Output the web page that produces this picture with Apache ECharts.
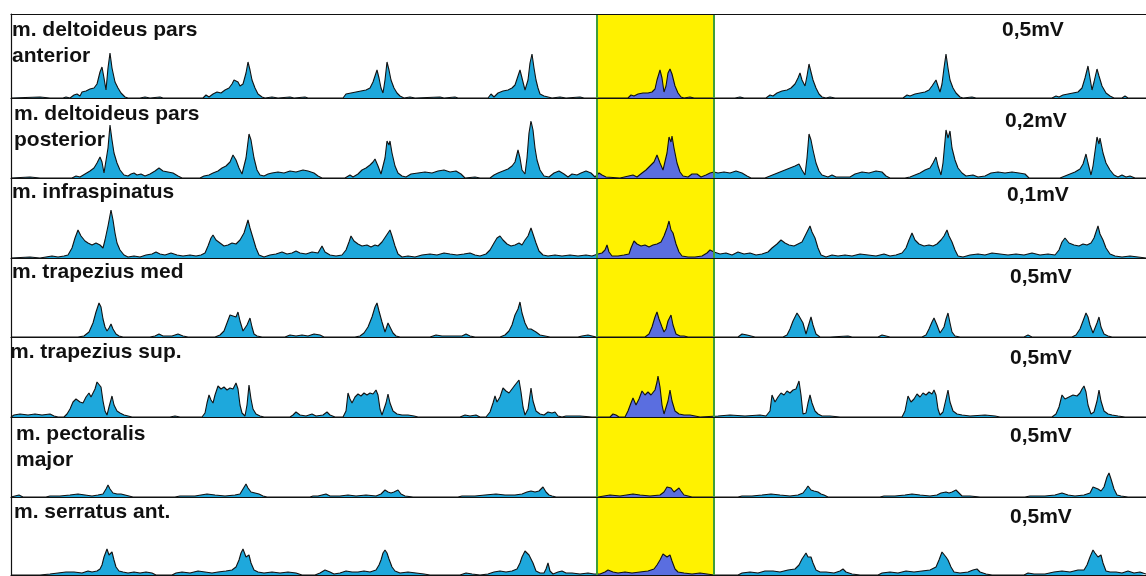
<!DOCTYPE html>
<html>
<head>
<meta charset="utf-8">
<script src="https://cdn.jsdelivr.net/npm/echarts@6/dist/echarts.min.js"></script>
<style>
  html, body { margin: 0; padding: 0; background: #ffffff; }
  #chart { width: 1146px; height: 576px; }
</style>
</head>
<body>
<div id="chart"></div>
<script>
// Rectified EMG envelopes, seven shoulder muscles, eight movement cycles.
// Each trace is a list of [time sample, amplitude] pairs.
const muscles = [
  'm. deltoideus pars\nanterior',
  'm. deltoideus pars\nposterior',
  'm. infraspinatus',
  'm. trapezius med',
  'm. trapezius sup.',
  'm. pectoralis\nmajor',
  'm. serratus ant.'
];
const scaleLabels = ['0,5mV', '0,2mV', '0,1mV', '0,5mV', '0,5mV', '0,5mV', '0,5mV'];

// highlighted movement cycle (start / end sample)
const cycleWindow = [586, 703];
const timeMax = 1135;

const deltAnt = [
  [0,0],[29,1],[39,0],
  [52,0],[55,1],[59,0],[63,3],[66,4],[69,2],[71,6],[75,7],[79,9],[83,10],[86,14],[89,26],[91,31],[93,20],[95,8],[97,30],[99,45],[101,30],[104,16],[107,10],[110,5],[114,1],[117,0],
  [129,0],[134,1],[139,0],[149,1],[152,0],
  [192,0],[195,3],[198,1],[202,4],[206,6],[210,5],[214,8],[218,10],[221,14],[223,18],[225,20],[227,16],[229,12],[232,14],[235,25],[237,36],[239,28],[241,18],[244,10],[247,4],[251,1],[254,0],
  [261,1],[267,0],[279,1],[283,0],[294,1],[297,0],
  [332,0],[335,4],[337,2],[340,5],[345,6],[350,7],[355,8],[359,10],[362,16],[364,22],[366,28],[368,20],[370,10],[372,5],[374,18],[376,36],[378,28],[380,18],[383,10],[386,5],[389,2],[393,0],
  [399,1],[404,0],[429,1],[433,0],[444,1],[447,0],
  [477,0],[480,4],[483,1],[487,5],[492,7],[497,8],[501,10],[504,13],[507,22],[509,28],[511,20],[514,8],[517,18],[519,35],[521,44],[523,30],[525,18],[527,10],[529,4],[533,2],[537,1],[541,0],
  [549,1],[555,0],[569,1],[573,0],
  [617,0],[620,3],[623,2],[625,1],[627,4],[632,5],[637,5],[641,6],[644,9],[646,18],[649,28],[651,20],[653,6],[655,12],[657,25],[659,29],[661,24],[664,12],[667,5],[670,1],[673,0],
  [679,1],[683,0],[724,0],[729,1],[733,0],
  [755,0],[759,3],[762,2],[766,5],[771,7],[776,8],[780,10],[784,14],[787,20],[789,25],[791,18],[794,12],[796,22],[798,34],[800,26],[802,18],[805,10],[808,4],[811,1],[815,0],
  [819,1],[824,0],
  [892,0],[896,3],[899,2],[904,4],[909,5],[914,6],[918,8],[921,12],[923,15],[925,18],[927,12],[929,6],[931,14],[933,30],[935,44],[937,30],[939,18],[942,10],[945,5],[949,1],[952,0],
  [961,1],[965,0],
  [1041,0],[1045,2],[1048,1],[1052,3],[1057,4],[1062,5],[1067,6],[1071,10],[1074,20],[1077,32],[1079,20],[1081,8],[1083,16],[1086,29],[1088,22],[1091,12],[1095,5],[1099,2],[1103,0],[1111,0],[1114,2],[1117,0],[1135,0]
];

const deltPost = [
  [0,0],[19,1],[29,0],
  [61,0],[65,2],[69,1],[74,4],[79,7],[83,10],[86,15],[89,21],[91,16],[93,5],[95,3],[97,30],[99,53],[101,38],[103,25],[106,15],[109,8],[113,3],[117,2],[120,4],[123,5],[126,3],[130,4],[134,2],[139,4],[144,7],[148,10],[152,7],[157,6],[162,5],[167,2],[171,0],
  [189,0],[193,2],[198,3],[202,5],[207,7],[211,10],[215,12],[219,16],[222,23],[225,18],[228,10],[231,4],[233,2],[235,20],[238,44],[240,38],[243,20],[246,8],[249,3],[253,2],[257,4],[261,5],[267,6],[273,5],[279,7],[285,6],[292,8],[297,7],[303,5],[307,2],[311,0],
  [334,0],[339,3],[342,1],[347,4],[351,8],[355,10],[359,13],[362,16],[364,19],[367,12],[370,4],[372,2],[374,20],[376,37],[378,33],[379,37],[381,25],[384,12],[387,5],[391,2],[395,1],[400,4],[407,5],[414,6],[421,5],[427,7],[433,8],[439,6],[445,7],[450,4],[454,0],
  [464,1],[469,0],
  [479,0],[483,3],[487,5],[492,7],[497,9],[501,12],[504,16],[507,28],[509,20],[511,8],[514,4],[516,20],[518,45],[520,57],[522,48],[524,30],[526,18],[529,8],[533,2],[538,1],[543,5],[548,7],[553,4],[557,1],[561,4],[566,3],[570,5],[575,7],[580,5],[584,1],[588,5],[591,3],[595,1],
  [609,0],[622,3],[626,1],[631,5],[635,8],[639,12],[643,16],[646,23],[649,15],[652,8],[654,10],[656,25],[658,41],[660,36],[661,42],[663,30],[666,15],[669,6],[672,2],[677,1],[681,4],[686,4],[690,1],[695,3],[699,5],[703,6],[707,5],[713,6],[719,5],[725,7],[731,5],[736,2],[740,0],
  [754,0],[759,2],[764,4],[769,6],[774,8],[779,10],[784,12],[788,14],[791,8],[794,3],[796,20],[798,44],[800,38],[802,28],[805,15],[808,7],[811,3],[817,1],[821,3],[825,1],[839,1],[844,4],[851,6],[858,5],[865,7],[871,6],[875,2],[879,0],
  [894,0],[899,1],[904,3],[909,5],[914,8],[919,10],[922,15],[925,21],[927,12],[930,3],[932,15],[935,48],[937,40],[939,47],[941,30],[944,18],[947,10],[951,5],[955,2],[962,3],[967,1],[974,2],[980,5],[987,6],[994,5],[1001,6],[1008,5],[1014,4],[1018,0],
  [1049,0],[1054,2],[1059,4],[1064,6],[1069,9],[1072,14],[1075,24],[1077,15],[1080,3],[1082,12],[1086,41],[1088,34],[1089,40],[1092,25],[1095,15],[1099,8],[1103,3],[1107,1],[1111,3],[1115,1],[1119,2],[1124,0],[1135,0]
];

const infraspinatus = [
  [0,0],[19,1],[29,0],[35,1],[41,2],[47,1],[53,2],[57,3],[61,10],[64,20],[67,28],[70,22],[74,17],[77,15],[81,13],[85,15],[89,13],[92,10],[94,18],[97,32],[100,48],[102,38],[104,25],[106,15],[109,8],[113,3],[117,1],
  [123,2],[129,1],[135,3],[141,4],[145,6],[149,4],[154,3],[160,5],[166,3],[172,2],[179,3],[185,2],[190,3],
  [194,5],[197,12],[200,20],[202,23],[205,18],[209,15],[213,12],[217,13],[221,15],[225,14],[229,18],[233,25],[237,38],[239,30],[242,20],[245,10],[248,3],[253,1],
  [259,3],[265,4],[271,6],[276,4],[281,5],[285,7],[289,5],[295,4],[301,6],[307,5],[311,12],[314,6],[319,3],[325,2],[331,3],
  [335,8],[338,16],[340,22],[343,17],[347,14],[351,12],[356,13],[360,11],[364,13],[367,12],[371,16],[375,22],[377,20],[379,28],[381,22],[384,12],[387,4],[391,1],
  [397,2],[404,1],[411,3],[419,4],[426,3],[433,5],[439,4],[446,3],[453,4],[459,5],[464,3],[469,2],[475,4],
  [479,8],[483,15],[486,20],[489,22],[492,18],[496,14],[500,12],[504,13],[508,15],[511,13],[514,18],[517,22],[520,30],[522,24],[525,15],[528,7],[532,3],
  [537,2],[544,3],[551,2],[559,3],[567,2],[575,3],[581,2],[587,4],[591,5],
  [594,8],[596,13],[598,6],[601,2],[607,2],[613,3],[618,4],[620,10],[623,17],[626,14],[630,12],[634,13],[638,11],[642,13],[646,14],[650,16],[653,22],[656,30],[658,37],[660,28],[662,25],[665,14],[668,6],[671,2],[677,1],[684,1],[691,2],[696,5],[699,8],[703,6],
  [709,4],[715,5],[721,3],[727,6],[733,4],[739,5],[745,3],[751,4],
  [757,6],[761,10],[766,14],[770,18],[774,15],[778,13],[783,12],[787,14],[791,16],[794,22],[797,28],[799,32],[801,26],[804,20],[807,10],[810,3],[815,1],
  [821,3],[827,2],[834,3],[841,2],[849,4],[857,3],[865,2],[873,4],[879,2],[885,3],
  [891,5],[895,10],[898,18],[901,25],[904,18],[908,14],[913,12],[918,13],[922,12],[926,14],[930,18],[933,22],[936,28],[938,22],[941,16],[944,8],[947,2],[952,1],
  [959,3],[967,4],[974,3],[981,5],[989,4],[997,3],[1005,4],[1013,3],[1021,5],[1029,3],[1037,4],[1044,3],
  [1048,8],[1051,16],[1054,20],[1058,15],[1063,13],[1068,12],[1072,14],[1076,13],[1080,15],[1083,20],[1085,26],[1087,32],[1089,24],[1092,18],[1095,10],[1099,4],[1104,2],[1111,1],[1119,2],[1127,1],[1135,0]
];

const trapMed = [
  [0,0],[29,0],
  [67,0],[73,1],[78,5],[82,14],[85,25],[88,34],[90,30],[92,18],[94,10],[96,6],[98,9],[100,13],[102,8],[105,3],[108,1],[112,0],
  [139,0],[144,1],[148,3],[152,1],[161,1],[167,3],[172,1],[177,0],
  [204,0],[209,2],[213,6],[216,14],[219,22],[222,21],[225,20],[227,25],[229,16],[232,6],[234,5],[236,12],[239,19],[241,10],[243,3],[246,1],[251,0],
  [274,0],[279,2],[285,1],[291,2],[297,1],[303,3],[309,2],[313,0],
  [344,0],[349,1],[353,4],[357,10],[361,20],[364,30],[366,34],[368,26],[371,15],[374,5],[375,6],[377,14],[379,10],[382,4],[385,1],[389,0],
  [419,0],[425,2],[431,1],[451,1],[455,3],[459,1],[464,0],
  [489,0],[494,2],[498,6],[501,12],[504,22],[507,28],[509,35],[511,24],[514,14],[517,8],[520,8],[522,9],[525,5],[529,2],[534,1],[539,0],
  [567,0],[571,1],[577,2],[581,1],[585,0],[594,0],[596,1],[599,0],
  [634,0],[638,3],[641,10],[644,20],[646,25],[648,18],[651,10],[653,5],[655,8],[657,16],[660,22],[662,12],[665,3],[669,1],[673,1],[677,0],
  [727,0],[731,3],[736,2],[740,1],[744,0],
  [772,0],[776,2],[779,8],[782,16],[786,24],[788,21],[790,23],[792,14],[795,3],[797,10],[800,20],[802,12],[805,3],[809,0],
  [819,0],[837,1],[841,0],[867,0],[871,2],[875,1],[879,0],
  [911,0],[915,2],[918,8],[921,15],[923,19],[926,12],[929,4],[931,3],[933,10],[935,18],[937,24],[939,14],[941,5],[944,1],[949,0],
  [1013,0],[1017,2],[1021,0],
  [1061,0],[1065,2],[1069,8],[1072,16],[1075,24],[1077,20],[1079,12],[1082,4],[1084,6],[1086,14],[1088,20],[1090,10],[1093,3],[1097,1],[1101,0],[1135,0]
];

const trapSup = [
  [0,0],[3,2],[9,3],[17,2],[24,3],[31,2],[39,3],[43,1],[47,0],
  [53,0],[56,3],[59,8],[62,15],[65,18],[67,19],[69,15],[72,14],[75,20],[78,24],[80,20],[82,18],[84,28],[86,35],[88,36],[90,30],[92,16],[94,6],[96,2],[98,10],[101,21],[103,12],[106,6],[109,4],[113,2],[117,1],[121,0],
  [159,0],[164,1],[169,0],
  [191,0],[194,4],[196,14],[198,22],[200,17],[202,14],[204,22],[207,31],[210,28],[213,30],[216,27],[219,29],[222,28],[225,34],[227,28],[229,12],[231,4],[234,1],[236,12],[238,32],[240,18],[242,8],[245,3],[249,1],[253,0],
  [279,0],[282,2],[285,5],[289,2],[295,1],[301,3],[305,1],[312,2],[316,5],[319,2],[324,0],
  [332,0],[335,6],[337,24],[339,18],[341,14],[344,20],[347,23],[350,21],[353,24],[356,22],[359,24],[362,23],[365,27],[367,22],[369,8],[371,2],[373,4],[375,14],[377,23],[379,14],[382,6],[386,3],[391,2],[397,2],[403,1],[407,0],
  [449,0],[454,2],[459,1],[465,2],[469,0],
  [475,0],[479,5],[482,14],[484,21],[486,15],[489,20],[492,29],[495,26],[498,24],[501,28],[504,32],[506,34],[508,37],[510,25],[512,10],[514,2],[517,8],[520,29],[522,16],[525,6],[529,3],[533,2],[537,5],[541,4],[544,5],[547,1],[551,0],
  [555,1],[569,1],[581,0],[599,0],[602,3],[605,2],[608,0],
  [614,0],[617,6],[620,14],[622,19],[625,12],[628,18],[631,26],[634,22],[637,25],[640,22],[642,24],[644,27],[646,35],[647,41],[649,30],[651,12],[653,3],[655,5],[657,16],[659,27],[661,16],[664,6],[668,3],[673,2],[679,2],[684,1],[689,0],
  [707,1],[719,2],[734,1],[749,2],[755,1],
  [757,0],[759,6],[761,22],[764,15],[767,20],[770,24],[773,22],[776,26],[779,24],[782,27],[785,28],[788,36],[790,22],[792,3],[795,4],[797,14],[799,22],[801,14],[804,6],[807,3],[811,1],[819,1],[829,0],
  [891,0],[894,6],[897,21],[900,15],[903,18],[906,23],[909,20],[912,24],[915,22],[918,25],[921,23],[923,27],[925,22],[927,8],[929,2],[932,5],[935,18],[937,27],[939,15],[942,6],[946,3],[951,2],[959,1],[974,2],[984,1],[989,0],
  [1041,0],[1045,3],[1048,10],[1051,22],[1054,18],[1058,20],[1062,22],[1066,21],[1069,24],[1071,28],[1073,31],[1075,25],[1077,12],[1080,3],[1083,5],[1086,16],[1088,27],[1090,16],[1093,6],[1097,3],[1101,2],[1107,1],[1114,0],[1135,0]
];

const pectMajor = [
  [0,0],[4,1],[8,2],[12,0],
  [35,0],[39,1],[49,1],[59,2],[67,3],[74,2],[81,1],[87,2],[92,3],[95,8],[97,12],[99,8],[102,4],[106,3],[110,3],[114,2],[118,1],[122,0],
  [164,0],[169,1],[184,1],[196,3],[204,2],[214,1],[224,2],[229,3],[232,8],[235,13],[237,9],[240,5],[244,4],[248,3],[252,1],[256,0],
  [299,0],[302,1],[307,1],[315,3],[319,1],[329,1],[337,2],[345,1],[355,2],[365,1],[370,3],[374,7],[377,5],[380,4],[383,5],[387,7],[390,3],[394,1],[402,0],
  [447,0],[451,1],[464,1],[474,2],[485,3],[494,2],[504,2],[511,3],[516,5],[520,6],[524,5],[528,6],[530,8],[532,10],[535,5],[538,2],[541,1],[545,0],
  [587,0],[589,1],[599,2],[609,1],[622,3],[629,2],[639,1],[649,2],[653,5],[656,10],[658,12],[660,9],[663,5],[665,5],[668,9],[670,6],[673,2],[677,1],[681,0],
  [727,0],[731,1],[741,1],[751,2],[760,3],[769,2],[779,1],[787,2],[792,4],[795,8],[797,11],[800,7],[803,6],[807,5],[810,3],[813,2],[817,0],
  [869,0],[873,1],[884,1],[894,2],[901,3],[909,2],[919,1],[926,2],[930,4],[932,6],[935,5],[938,4],[941,5],[945,7],[948,4],[951,1],[959,1],[969,0],
  [1014,0],[1019,1],[1034,1],[1044,2],[1051,4],[1057,2],[1064,1],[1073,2],[1079,4],[1082,10],[1084,12],[1087,8],[1090,6],[1093,10],[1096,20],[1098,24],[1100,18],[1103,8],[1106,2],[1110,1],[1117,0],[1135,0]
];

const serratusAnt = [
  [0,0],[29,0],[39,1],[47,2],[55,3],[63,3],[71,2],[77,4],[81,3],[86,4],[89,6],[91,10],[93,18],[96,26],[98,20],[101,23],[103,15],[105,8],[108,4],[112,3],[117,2],[123,3],[129,2],[135,3],[141,2],[145,0],
  [161,0],[165,2],[171,3],[179,2],[187,4],[194,3],[201,2],[207,3],[215,4],[221,5],[225,8],[228,15],[230,22],[232,26],[235,18],[238,20],[240,12],[243,5],[247,3],[253,2],[261,3],[269,2],[277,3],[285,2],[291,0],
  [304,0],[309,2],[314,5],[316,7],[319,3],[323,1],[329,2],[335,4],[337,5],[341,3],[347,3],[353,4],[359,3],[365,5],[368,10],[370,15],[372,22],[374,25],[376,22],[378,16],[381,8],[384,4],[389,2],[397,3],[405,2],[413,1],[419,0],
  [449,0],[455,2],[461,1],[469,0],[477,1],[483,3],[489,4],[495,3],[501,4],[506,6],[509,12],[511,18],[514,24],[516,25],[518,20],[520,20],[522,12],[525,4],[529,2],[533,2],[535,6],[537,12],[539,4],[542,1],[547,3],[551,4],[555,2],[561,2],[569,1],[577,2],[583,1],
  [589,1],[594,3],[597,5],[599,6],[602,3],[607,2],[614,3],[621,2],[629,3],[637,4],[643,6],[646,10],[649,15],[652,21],[654,23],[656,18],[659,20],[661,14],[664,6],[667,3],[673,2],[681,1],[689,2],[696,1],[703,0],
  [727,0],[731,2],[739,3],[747,2],[754,4],[762,4],[769,3],[777,5],[784,6],[788,10],[791,16],[795,22],[797,18],[800,18],[802,12],[805,5],[809,3],[815,3],[823,2],[829,4],[832,6],[835,3],[841,1],[849,0],
  [867,0],[871,2],[879,3],[887,2],[895,4],[903,3],[911,4],[919,5],[925,8],[928,15],[931,23],[933,25],[935,18],[937,15],[940,8],[943,3],[949,2],[957,3],[962,5],[966,6],[969,3],[975,1],[981,0],
  [1013,0],[1017,2],[1023,1],[1034,1],[1043,3],[1051,4],[1059,3],[1067,5],[1073,5],[1076,10],[1079,18],[1082,25],[1084,22],[1087,18],[1090,20],[1092,12],[1095,4],[1099,3],[1105,3],[1111,2],[1117,4],[1123,2],[1129,3],[1135,1]
];

const traces = [deltAnt, deltPost, infraspinatus, trapMed, trapSup, pectMajor, serratusAnt];

// ---- layout ----
const plotLeft = 11;
const rowTops    = [14, 98, 178, 258, 337, 417, 497];
const rowHeights = [84, 80, 80, 79, 80, 80, 78];
const nameLeft   = [12, 14, 12, 12, 10, 16, 14];
const nameTop    = [17, 101, 179, 259, 339, 421, 499];
const scaleLeft  = [1002, 1005, 1007, 1010, 1010, 1010, 1010];
const scaleTop   = [17, 108, 182, 264, 345, 423, 504];

const COLOR_FILL = '#1ea8dc';
const COLOR_FILL_CYCLE = '#5a6ee0';
const COLOR_BAND = '#fff200';
const COLOR_BAND_EDGE = '#3f9e3a';
const FONT = "'Liberation Sans', Arial, Helvetica, sans-serif";

const labelStyle = {
  fontFamily: FONT, fontWeight: 'bold', fontSize: 21, lineHeight: 26, color: '#111'
};

const hiddenAxisParts = {
  axisTick: { show: false }, axisLabel: { show: false }, splitLine: { show: false }
};
const frameLine = { show: true, lineStyle: { color: '#111', width: 1.2 } };

const grids = [], xAxes = [], yAxes = [], series = [], titles = [];

traces.forEach((trace, i) => {
  grids.push({ left: plotLeft, right: 0, top: rowTops[i], height: rowHeights[i] });
  xAxes.push(Object.assign({
    gridIndex: i, type: 'value', min: 0, max: timeMax, z: 5, axisLine: frameLine
  }, hiddenAxisParts));
  yAxes.push(Object.assign({
    gridIndex: i, type: 'value', min: 0, max: rowHeights[i], z: 5, axisLine: frameLine
  }, hiddenAxisParts));
  series.push({
    type: 'line',
    xAxisIndex: i, yAxisIndex: i,
    data: trace,
    symbol: 'none', showSymbol: false,
    lineStyle: { color: '#111', width: 1.1 },
    areaStyle: { opacity: 1 },
    silent: true,
    markArea: {
      silent: true,
      itemStyle: { color: COLOR_BAND },
      data: [[{ xAxis: cycleWindow[0] }, { xAxis: cycleWindow[1] }]]
    },
    markLine: {
      silent: true, symbol: ['none', 'none'],
      label: { show: false },
      lineStyle: { color: COLOR_BAND_EDGE, width: 2, type: 'solid' },
      data: [{ xAxis: cycleWindow[0] }, { xAxis: cycleWindow[1] }]
    }
  });
  titles.push({ text: muscles[i], left: nameLeft[i], top: nameTop[i], padding: 0, textStyle: labelStyle });
  titles.push({ text: scaleLabels[i], left: scaleLeft[i], top: scaleTop[i], padding: 0, textStyle: labelStyle });
});

// frame line along the top of the first row
xAxes.push(Object.assign({
  gridIndex: 0, type: 'value', position: 'top', min: 0, max: timeMax, z: 5, axisLine: frameLine
}, hiddenAxisParts));

const chart = echarts.init(document.getElementById('chart'), null, { renderer: 'canvas' });
chart.setOption({
  backgroundColor: '#ffffff',
  animation: false,
  title: titles,
  grid: grids,
  xAxis: xAxes,
  yAxis: yAxes,
  visualMap: {
    type: 'piecewise', show: false, dimension: 0,
    seriesIndex: traces.map((_, i) => i),
    pieces: [
      { lt: cycleWindow[0], color: COLOR_FILL },
      { gte: cycleWindow[0], lte: cycleWindow[1], color: COLOR_FILL_CYCLE },
      { gt: cycleWindow[1], color: COLOR_FILL }
    ]
  },
  series: series
});
</script>
</body>
</html>
